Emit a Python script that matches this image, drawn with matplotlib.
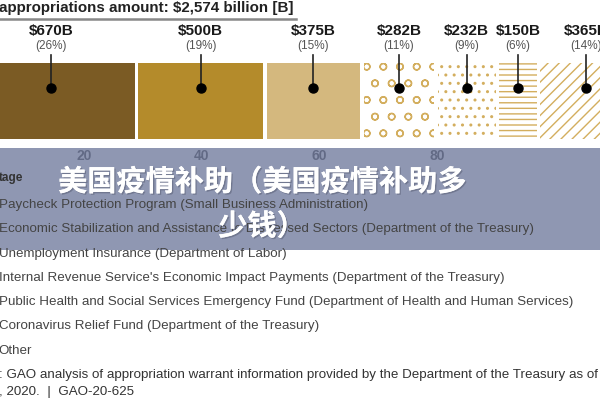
import numpy as np
import matplotlib.pyplot as plt
from matplotlib.patches import Rectangle
from matplotlib.lines import Line2D
import matplotlib.patheffects as pe

plt.rcParams['font.family'] = ['Liberation Sans', 'DejaVu Sans']
plt.rcParams['hatch.linewidth'] = 1.0

# 数据
amounts = [670, 500, 375, 282, 232, 150, 365]          # 十亿美元
pcts = [26, 19, 15, 11, 9, 6, 14]
colors = ['#7b5b24', '#b48b2b', '#d4b87e', 'white', 'white', 'white', 'white']
hatches = [None, None, None, 'o', '..', '---', '///']
tick_pcts = [20, 40, 60, 80]
programs = [
    'Paycheck Protection Program (Small Business Administration)',
    'Economic Stabilization and Assistance to Distressed Sectors (Department of the Treasury)',
    'Unemployment Insurance (Department of Labor)',
    "Internal Revenue Service's Economic Impact Payments (Department of the Treasury)",
    'Public Health and Social Services Emergency Fund (Department of Health and Human Services)',
    'Coronavirus Relief Fund (Department of the Treasury)',
    'Other',
]
title = 'appropriations amount: $2,574 billion [B]'
source = [': GAO analysis of appropriation warrant information provided by the Department of the Treasury as of',
          ', 2020.  |  GAO-20-625']
banner = '美国疫情补助（美国疫情补助多\n少钱）'

GAP = 14
W, H = 600, 400

fig = plt.figure(figsize=(6, 4), dpi=100)
fig.patch.set_facecolor('white')

def fy(px):
    return 1 - px / H

# 横条
bar_top, bar_bot = 63, 139
ax = fig.add_axes([0, fy(bar_bot), 1, (bar_bot - bar_top) / H])
ax.set_xlim(132, 2532)
ax.set_ylim(0, 1)
for s in ax.spines.values():
    s.set_visible(False)
ax.set_yticks([])
ax.set_xticks([])

starts = np.concatenate([[0], np.cumsum(amounts)[:-1]]) + GAP * np.arange(len(amounts))
for i, (a, st) in enumerate(zip(amounts, starts)):
    ax.barh(0.5, a, left=st, height=1.0, color=colors[i], hatch=hatches[i],
            edgecolor='#d3ae5e' if hatches[i] else colors[i], linewidth=0)
    cx = st + a / 2
    ax.plot([cx, cx], [0.67, 1.11], color='#222222', lw=1.2, clip_on=False)
    ax.plot(cx, 0.67, 'o', color='black', ms=6.5, clip_on=False)
    ax.text(cx, 1.42, '$%dB' % a, ha='center', va='center', fontsize=11,
            fontweight='bold', color='#1a1a1a', clip_on=False)
    ax.text(cx, 1.22, '(%d%%)' % pcts[i], ha='center', va='center', fontsize=8.5,
            color='#555555', clip_on=False)

sec = ax.secondary_xaxis('bottom', functions=(lambda b: b / 23.5, lambda p: p * 23.5))
sec.set_xticks(tick_pcts)
sec.tick_params(length=0, pad=7, labelsize=10, labelcolor='#222222')
for lab in sec.get_xticklabels():
    lab.set_fontweight('bold')
sec.spines['bottom'].set_visible(False)

# 标题
fig.text(-0.002, fy(8), title, fontsize=10.9, fontweight='bold', color='#222222',
         ha='left', va='center')
fig.add_artist(Line2D([0, 0.493], [fy(19), fy(19)], color='#888888', lw=1.8))

# 图例文字
fig.text(-0.002, fy(178), 'tage', fontsize=8.5, fontweight='bold', color='#333333',
         ha='left', va='center')
for i, p in enumerate(programs):
    fig.text(-0.002, fy(205 + i * 24.3), p, fontsize=9.6, color='#444444',
             ha='left', va='center')
for i, s in enumerate(source):
    fig.text(-0.002, fy(375 + i * 17), s, fontsize=9.6, color='#333333',
             ha='left', va='center')

# 半透明横幅
fig.add_artist(Rectangle((0, fy(250)), 1, (250 - 148) / H, transform=fig.transFigure,
                         facecolor='#737d9f', alpha=0.8, edgecolor='none'))
fig.text(262 / W, fy(204), banner, fontsize=21, fontweight='bold', color='white',
         ha='center', va='center', linespacing=1.6,
         family=['Noto Sans CJK SC', 'DejaVu Sans'],
         path_effects=[pe.withSimplePatchShadow(offset=(1, -1), shadow_rgbFace='#555a70', alpha=0.5),
                       pe.Normal()])

fig.savefig('out.png', dpi=100)
